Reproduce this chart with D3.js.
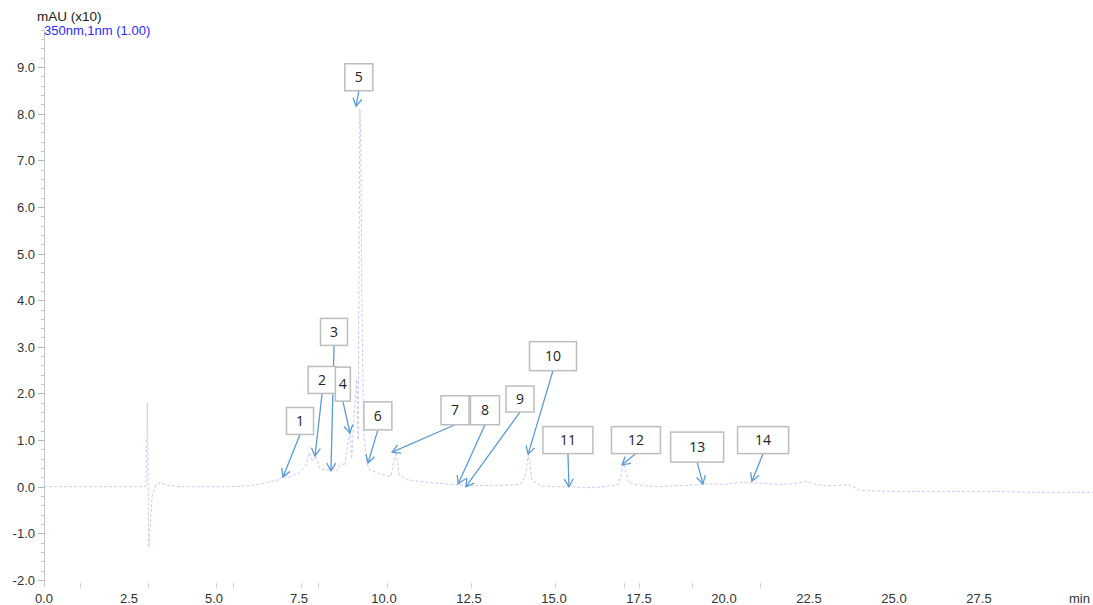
<!DOCTYPE html>
<html>
<head>
<meta charset="utf-8">
<script src="https://cdn.jsdelivr.net/npm/d3@7"></script>
<style>
  html, body { margin: 0; padding: 0; background: #fff; }
  svg { display: block; }
  .tick-label { font-family: "Liberation Sans", Arial, sans-serif; font-size: 13px; fill: #333; }
  .box-label { font-family: "Open Sans", "Noto Sans", sans-serif; font-size: 14px; fill: #222; }
</style>
</head>
<body>
<svg id="chart" width="1093" height="605"></svg>
<script>
// Chromatogram trace, 350 nm channel (retention time in min, signal in mAU x10)
const traceTime = [
  0.0, 1.0, 2.0, 2.9, 3.0, 3.04, 3.06, 3.08, 3.12, 3.18, 3.3, 3.42, 3.6, 4.0, 5.0, 5.5,
  6.0, 6.5, 6.9, 7.05, 7.2, 7.5, 7.7, 7.8, 7.9, 8.0, 8.1, 8.3, 8.45, 8.6, 8.75, 8.85,
  8.95, 9.0, 9.05, 9.12, 9.2, 9.24, 9.27, 9.29, 9.32, 9.35, 9.4, 9.5, 9.6, 9.8, 10.0,
  10.2, 10.35, 10.45, 10.7, 11.0, 11.5, 12.0, 12.5, 13.0, 13.5, 14.0, 14.15, 14.25,
  14.35, 14.6, 15.0, 15.5, 16.0, 16.5, 16.9, 17.05, 17.2, 17.6, 18.0, 18.5, 19.0, 19.5,
  20.0, 20.5, 21.0, 21.5, 22.0, 22.45, 22.7, 23.0, 23.7, 24.0, 25.0, 26.0, 27.0, 28.0,
  29.0, 30.0, 31.0
];
const traceValue = [
  0.0, 0.0, 0.0, 0.0, 0.02, 1.8, 0.5, -1.3, -0.9, -0.2, 0.05, 0.09, 0.03, 0.0, 0.0, 0.0,
  0.02, 0.08, 0.15, 0.25, 0.2, 0.3, 0.45, 0.73, 0.55, 0.66, 0.4, 0.35, 0.38, 0.33, 0.5, 0.45,
  1.0, 1.27, 0.6, 1.5, 2.3, 1.0, 5.5, 8.1, 7.3, 4.0, 1.2, 0.5, 0.35, 0.3, 0.25,
  0.22, 0.75, 0.25, 0.15, 0.12, 0.08, 0.05, 0.02, 0.03, 0.03, 0.05, 0.2, 0.7,
  0.15, 0.02, 0.0, 0.0, -0.02, 0.0, 0.05, 0.5, 0.08, 0.02, 0.0, 0.02, 0.03, 0.06,
  0.05, 0.1, 0.08, 0.05, 0.06, 0.12, 0.05, 0.02, 0.04, -0.08, -0.1, -0.1, -0.1, -0.1,
  -0.12, -0.12, -0.12
];

// Axis ticks
const xTicks = [0, 2.5, 5, 7.5, 10, 12.5, 15, 17.5, 20, 22.5, 25, 27.5];
const yTicks = [-2, -1, 0, 1, 2, 3, 4, 5, 6, 7, 8, 9];

// Event marks along the time axis (min)
const eventTimes = [1.05, 3.05, 5.05, 5.55, 7.55, 8.05, 10.1, 12.55, 15.03, 17.05, 17.5, 19.05, 21.05];

// Peak annotations: label, arrow tip (time, signal), label position (time, signal)
const peakLabels = ["1", "2", "3", "4", "5", "6", "7", "8", "9", "10", "11", "12", "13", "14"];
const tipTime    = [7.03, 7.97, 8.44, 9.0, 9.18, 9.53, 10.24, 12.18, 12.41, 14.24, 15.44, 17.0, 19.38, 20.82];
const tipValue   = [0.21, 0.66, 0.34, 1.15, 8.16, 0.51, 0.74, 0.06, 0.0, 0.70, 0.0, 0.47, 0.06, 0.12];
const labelTime  = [7.53, 8.18, 8.53, 8.79, 9.26, 9.82, 12.09, 12.97, 14.0, 14.97, 15.41, 17.41, 19.21, 21.15];
const labelValue = [1.41, 2.29, 3.32, 2.20, 8.78, 1.52, 1.64, 1.64, 1.88, 2.80, 1.00, 1.00, 0.85, 1.00];

const boxW = [27, 28, 27, 15, 28, 28, 28, 29, 28, 47, 50, 49, 53, 51];
const boxH = [27, 27, 27, 34, 27, 28, 29, 29, 26, 29, 27, 27, 30, 27];

const svg = d3.select("#chart");

const x = d3.scaleLinear().domain([0, 31]).range([44, 44 + 31 * 34]);
const y = d3.scaleLinear().domain([-2, 9]).range([580, 67]);

// Tick labels use a plain hyphen for negatives
const fmt = d => d3.format(".1f")(d).replace("\u2212", "-");

// Y axis: line with major and minor ticks
const yAxisG = svg.append("g");
yAxisG.append("line")
  .attr("x1", 44.5).attr("x2", 44.5)
  .attr("y1", y(9.8)).attr("y2", y(-2.15))
  .attr("stroke", "#c8c8c8").attr("stroke-width", 1);

const minor = d3.range(-2.0, 9.81, 0.2).filter(v => Math.abs(v - Math.round(v)) > 1e-6);
yAxisG.selectAll(".minor").data(minor).join("line")
  .attr("x1", 41).attr("x2", 45)
  .attr("y1", d => Math.round(y(d)) + 0.5).attr("y2", d => Math.round(y(d)) + 0.5)
  .attr("stroke", "#c8c8c8");

yAxisG.selectAll(".major").data(yTicks).join("line")
  .attr("x1", 38).attr("x2", 45)
  .attr("y1", d => Math.round(y(d)) + 0.5).attr("y2", d => Math.round(y(d)) + 0.5)
  .attr("stroke", "#b8b8b8");

yAxisG.selectAll("text").data(yTicks).join("text")
  .attr("class", "tick-label")
  .attr("x", 35).attr("y", d => y(d) + 5)
  .attr("text-anchor", "end")
  .text(fmt);

// X axis labels
svg.append("g").selectAll("text").data(xTicks).join("text")
  .attr("class", "tick-label")
  .attr("x", d => x(d)).attr("y", 603)
  .attr("text-anchor", "middle")
  .text(fmt);

svg.append("text").attr("class", "tick-label")
  .attr("x", 1069).attr("y", 603).text("min");

// Event marks
svg.append("g").selectAll("line").data(eventTimes).join("line")
  .attr("x1", d => Math.round(x(d)) + 0.5).attr("x2", d => Math.round(x(d)) + 0.5)
  .attr("y1", 583).attr("y2", 588)
  .attr("stroke", "#d0d0d0");

// Header
svg.append("text")
  .attr("x", 37).attr("y", 21)
  .style("font-family", "Liberation Sans, Arial, sans-serif")
  .style("font-size", "13.5px").style("fill", "#222")
  .text("mAU (x10)");
svg.append("text")
  .attr("x", 44).attr("y", 35)
  .style("font-family", "Liberation Sans, Arial, sans-serif")
  .style("font-size", "13px").style("fill", "#2a2aff")
  .text("350nm,1nm (1.00)");

// Trace
const points = traceTime.map((t, i) => [t, traceValue[i]]);
const line = d3.line().x(d => x(d[0])).y(d => y(d[1]));
svg.append("path")
  .datum(points)
  .attr("d", line)
  .attr("fill", "none")
  .attr("stroke", "#c0c0f4")
  .attr("stroke-width", 1)
  .attr("stroke-dasharray", "3 2")
  .attr("opacity", 0.85);

// Annotations
const ann = peakLabels.map((lab, i) => ({
  lab, tx: x(tipTime[i]), ty: y(tipValue[i]),
  cx: x(labelTime[i]), cy: y(labelValue[i]), w: boxW[i], h: boxH[i]
}));

const arrowG = svg.append("g");
ann.forEach(a => {
  const sx = a.cx, sy = a.cy + a.h / 2;
  arrowG.append("line")
    .attr("x1", sx).attr("y1", sy).attr("x2", a.tx).attr("y2", a.ty)
    .attr("stroke", "#5b9bd5").attr("stroke-width", 1.3);
  const ang = Math.atan2(a.ty - sy, a.tx - sx);
  const L = 9, spread = Math.PI / 6;
  const p1 = [a.tx - L * Math.cos(ang - spread), a.ty - L * Math.sin(ang - spread)];
  const p2 = [a.tx - L * Math.cos(ang + spread), a.ty - L * Math.sin(ang + spread)];
  arrowG.append("path")
    .attr("d", `M${p1[0]},${p1[1]}L${a.tx},${a.ty}L${p2[0]},${p2[1]}`)
    .attr("fill", "none").attr("stroke", "#5b9bd5").attr("stroke-width", 1.3);
});

const boxG = svg.append("g");
boxG.selectAll("rect").data(ann).join("rect")
  .attr("x", d => d.cx - d.w / 2).attr("y", d => d.cy - d.h / 2)
  .attr("width", d => d.w).attr("height", d => d.h)
  .attr("fill", "#fff").attr("stroke", "#bdbdbd").attr("stroke-width", 1.5);
boxG.selectAll("text").data(ann).join("text")
  .attr("class", "box-label")
  .attr("x", d => d.cx).attr("y", d => d.cy + 5)
  .attr("text-anchor", "middle")
  .text(d => d.lab);
</script>
</body>
</html>
